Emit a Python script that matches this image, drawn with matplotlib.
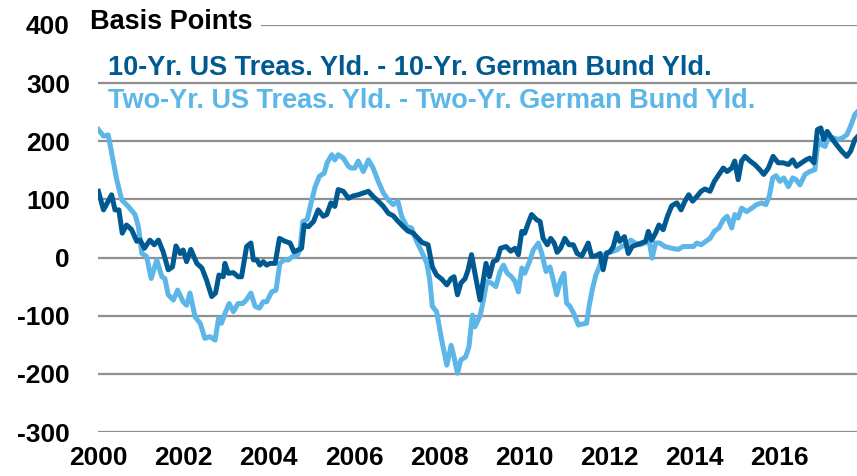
import matplotlib
matplotlib.use("Agg")
import matplotlib.pyplot as plt

# ---- data (basis points) ----
years_10y = [2000.00, 2000.12, 2000.23, 2000.31, 2000.39, 2000.48, 2000.56, 2000.66, 2000.78, 2000.90,
             2000.98, 2001.08, 2001.21, 2001.31, 2001.41, 2001.52, 2001.64, 2001.74, 2001.82, 2001.92,
             2001.99, 2002.07, 2002.17, 2002.31, 2002.43, 2002.54, 2002.66, 2002.75, 2002.83, 2002.93,
             2002.97, 2003.05, 2003.17, 2003.28, 2003.36, 2003.48, 2003.58, 2003.64, 2003.72, 2003.79,
             2003.87, 2003.95, 2004.03, 2004.15, 2004.25, 2004.38, 2004.50, 2004.59, 2004.69, 2004.77,
             2004.83, 2004.93, 2005.05, 2005.16, 2005.28, 2005.36, 2005.46, 2005.55, 2005.63, 2005.75,
             2005.87, 2005.98, 2006.10, 2006.22, 2006.34, 2006.45, 2006.57, 2006.69, 2006.81, 2006.92,
             2007.04, 2007.16, 2007.26, 2007.39, 2007.51, 2007.60, 2007.74, 2007.84, 2007.94, 2008.06,
             2008.18, 2008.28, 2008.35, 2008.43, 2008.51, 2008.61, 2008.68, 2008.76, 2008.84, 2008.96,
             2009.10, 2009.18, 2009.27, 2009.36, 2009.44, 2009.57, 2009.68, 2009.78, 2009.86, 2009.94,
             2010.01, 2010.09, 2010.17, 2010.29, 2010.37, 2010.44, 2010.54, 2010.62, 2010.70, 2010.77,
             2010.85, 2010.95, 2011.05, 2011.15, 2011.24, 2011.35, 2011.42, 2011.50, 2011.58, 2011.68,
             2011.78, 2011.85, 2011.93, 2012.01, 2012.09, 2012.17, 2012.24, 2012.35, 2012.44, 2012.53,
             2012.64, 2012.75, 2012.85, 2012.91, 2012.99, 2013.08, 2013.16, 2013.26, 2013.36, 2013.46,
             2013.58, 2013.68, 2013.77, 2013.86, 2013.95, 2014.05, 2014.15, 2014.24, 2014.36, 2014.46,
             2014.57, 2014.67, 2014.76, 2014.87, 2014.94, 2015.02, 2015.10, 2015.18, 2015.30, 2015.41,
             2015.53, 2015.62, 2015.73, 2015.84, 2015.96, 2016.08, 2016.20, 2016.30, 2016.39, 2016.51,
             2016.61, 2016.70, 2016.80, 2016.88, 2016.96, 2017.03, 2017.11, 2017.21, 2017.33, 2017.45,
             2017.57, 2017.66, 2017.76, 2017.81]
spread_10y = [114, 82, 97, 108, 82, 82, 42, 56, 48, 28,
              30, 16, 30, 22, 30, 10, -21, -16, 20, 7,
              13, -7, 14, -10, -18, -39, -67, -61, -30, -33,
              -10, -27, -26, -33, -33, 19, 25, -4, -4, -13,
              -7, -13, -10, -10, 33, 28, 25, 10, 13, 16,
              56, 53, 62, 82, 71, 74, 94, 88, 117, 114,
              102, 106, 108, 111, 114, 105, 97, 88, 76, 72,
              62, 53, 46, 42, 33, 26, 22, -16, -30, -37,
              -47, -36, -33, -64, -44, -36, -21, 5, -27, -73,
              -10, -33, -7, -4, 16, 19, 11, 16, 5, 45,
              42, 59, 74, 65, 62, 33, 22, 33, 25, 9,
              16, 33, 22, 22, 7, 3, 13, 25, 2, 3,
              7, -21, 7, 10, 19, 42, 28, 36, 7, 19,
              22, 25, 28, 45, 30, 42, 56, 48, 71, 89,
              94, 82, 97, 108, 97, 105, 114, 118, 114, 131,
              143, 154, 148, 154, 166, 134, 166, 174, 166, 160,
              151, 143, 154, 174, 163, 163, 160, 168, 157, 163,
              168, 171, 163, 220, 223, 203, 217, 206, 194, 183,
              174, 183, 203, 207]

years_2y = [2000.00, 2000.12, 2000.23, 2000.31, 2000.43, 2000.55, 2000.70, 2000.86, 2000.94, 2001.02,
            2001.13, 2001.24, 2001.37, 2001.49, 2001.56, 2001.64, 2001.76, 2001.86, 2001.99, 2002.07,
            2002.15, 2002.27, 2002.39, 2002.50, 2002.62, 2002.74, 2002.82, 2002.89, 2002.97, 2003.07,
            2003.17, 2003.28, 2003.39, 2003.47, 2003.58, 2003.68, 2003.78, 2003.87, 2003.95, 2004.07,
            2004.17, 2004.26, 2004.36, 2004.46, 2004.56, 2004.66, 2004.73, 2004.80, 2004.90, 2005.01,
            2005.09, 2005.19, 2005.30, 2005.37, 2005.48, 2005.55, 2005.63, 2005.75, 2005.87, 2005.93,
            2006.02, 2006.10, 2006.22, 2006.34, 2006.45, 2006.57, 2006.69, 2006.81, 2006.92, 2007.03,
            2007.12, 2007.24, 2007.35, 2007.47, 2007.59, 2007.71, 2007.78, 2007.84, 2007.94, 2008.06,
            2008.18, 2008.28, 2008.35, 2008.43, 2008.51, 2008.62, 2008.70, 2008.78, 2008.84, 2008.96,
            2009.04, 2009.12, 2009.23, 2009.33, 2009.43, 2009.51, 2009.60, 2009.70, 2009.78, 2009.86,
            2009.94, 2010.01, 2010.12, 2010.21, 2010.33, 2010.41, 2010.51, 2010.60, 2010.68, 2010.76,
            2010.85, 2010.93, 2010.99, 2011.07, 2011.16, 2011.27, 2011.38, 2011.46, 2011.52, 2011.60,
            2011.68, 2011.76, 2011.82, 2011.93, 2012.05, 2012.17, 2012.28, 2012.40, 2012.50, 2012.60,
            2012.71, 2012.83, 2012.93, 2013.00, 2013.08, 2013.18, 2013.30, 2013.46, 2013.61, 2013.73,
            2013.85, 2013.97, 2014.05, 2014.15, 2014.26, 2014.36, 2014.46, 2014.57, 2014.67, 2014.76,
            2014.87, 2014.94, 2015.02, 2015.10, 2015.22, 2015.34, 2015.45, 2015.57, 2015.67, 2015.75,
            2015.83, 2015.91, 2016.00, 2016.09, 2016.20, 2016.30, 2016.38, 2016.47, 2016.59, 2016.70,
            2016.82, 2016.90, 2016.98, 2017.06, 2017.13, 2017.25, 2017.37, 2017.47, 2017.57, 2017.66,
            2017.76, 2017.81]
spread_2y = [220, 209, 211, 180, 134, 99, 88, 74, 53, 7,
             2, -36, -4, -33, -36, -64, -73, -56, -76, -82,
             -61, -102, -113, -139, -136, -142, -105, -113, -96, -79,
             -93, -79, -79, -73, -61, -84, -87, -76, -76, -59,
             -56, -10, -4, -4, 2, 3, 13, 62, 65, 99,
             122, 140, 145, 163, 177, 168, 177, 171, 157, 154,
             154, 166, 148, 168, 154, 131, 111, 99, 91, 97,
             71, 53, 51, 28, 10, -10, -39, -84, -93, -142,
             -185, -151, -171, -199, -176, -171, -153, -99, -119, -100,
             -73, -41, -44, -50, -24, -13, -27, -33, -41, -59,
             -18, -27, -7, 13, 25, 7, -24, -16, -39, -64,
             -39, -27, -78, -84, -96, -116, -114, -113, -84, -53,
             -30, -16, -1, 9, 10, 13, 19, 22, 30, 25,
             22, 25, 28, -1, 25, 25, 19, 16, 14, 19,
             19, 19, 25, 22, 28, 33, 45, 51, 65, 71,
             51, 74, 68, 85, 79, 85, 91, 94, 91, 105,
             137, 141, 131, 137, 122, 137, 134, 125, 143, 148,
             151, 203, 194, 191, 206, 206, 203, 206, 211, 226,
             246, 250]

label_10y = "10-Yr. US Treas. Yld. - 10-Yr. German Bund Yld."
label_2y = "Two-Yr. US Treas. Yld. - Two-Yr. German Bund Yld."
y_ticks = [-300, -200, -100, 0, 100, 200, 300, 400]
x_ticks = [2000, 2002, 2004, 2006, 2008, 2010, 2012, 2014, 2016]

DARK = "#005A91"
LIGHT = "#5CB6E7"
GRID = "#8F8F8F"
FONT = "Liberation Sans"
FS_TICK = 19
FS_TEXT = 19.5

W, H = 857, 476
fig = plt.figure(figsize=(W / 100, H / 100), dpi=100)
ax = fig.add_axes([98.4 / W, 1 - 432 / H, 1 - 98.4 / W, (432 - 25) / H])

ax.plot(years_2y, spread_2y, color=LIGHT, lw=3.6, solid_joinstyle="round", zorder=3)
ax.plot(years_10y, spread_10y, color=DARK, lw=3.6, solid_joinstyle="round", zorder=4)

ax.set_xlim(2000, 2017.81)
ax.set_ylim(-300, 400)
ax.set_yticks(y_ticks)
ax.set_xticks(x_ticks)
ax.set_yticklabels([str(v) for v in y_ticks], fontfamily=FONT, fontweight="bold", fontsize=FS_TICK)
ax.set_xticklabels([str(v) for v in x_ticks], fontfamily=FONT, fontweight="bold", fontsize=FS_TICK)
ax.tick_params(axis="both", length=0, colors="black")
ax.tick_params(axis="y", pad=20.5)
ax.tick_params(axis="x", pad=10)
for s in ax.spines.values():
    s.set_visible(False)
ax.grid(axis="y", color=GRID, lw=1.6, zorder=1)
ax.set_axisbelow(True)
ax.patch.set_alpha(0)

fig.text(90 / W, 1 - 22 / H, "Basis Points", fontfamily=FONT, fontweight="bold", fontsize=FS_TEXT,
         ha="left", va="center", color="black",
         bbox=dict(facecolor="white", edgecolor="none", boxstyle="square,pad=0.3"), zorder=5)
fig.text(108 / W, 1 - 68 / H, label_10y, fontfamily=FONT, fontweight="bold", fontsize=FS_TEXT,
         ha="left", va="center", color=DARK, zorder=5)
fig.text(108 / W, 1 - 101 / H, label_2y, fontfamily=FONT, fontweight="bold", fontsize=FS_TEXT,
         ha="left", va="center", color=LIGHT, zorder=5)

fig.savefig("out.png", dpi=100)
